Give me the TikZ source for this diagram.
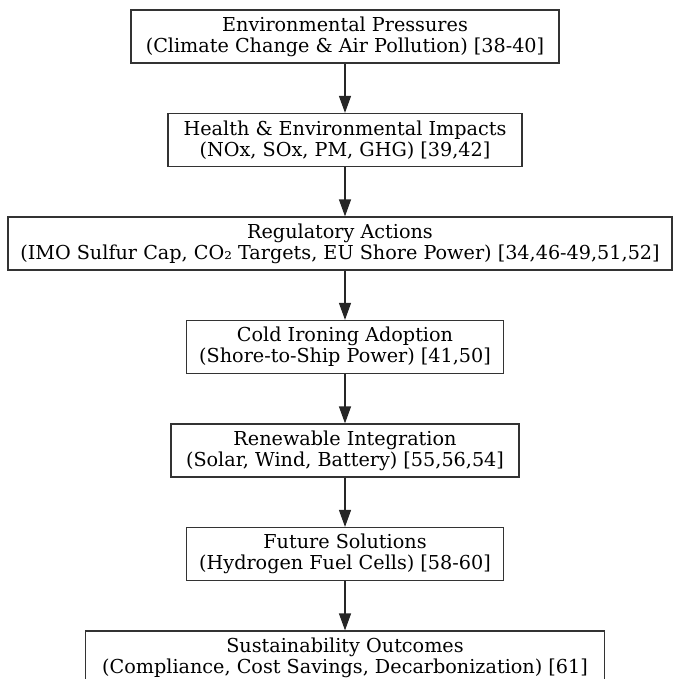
\documentclass[tikz,border=0pt]{standalone}
\usepackage{fontspec}
\setmainfont{DejaVu Serif}
\usetikzlibrary{positioning,arrows.meta}

\begin{document}
\begin{tikzpicture}[x=1pt,y=1pt,
  node distance=49.3pt,
  stage/.style={draw=black!80, line width=1.2pt, minimum height=53pt,
    align=center, inner xsep=10pt, font=\fontsize{19.2}{21}\selectfont},
  flow/.style={-{Triangle[length=17pt,width=12pt]}, line width=1.2pt, black!85}]

% Page frame (the source image is cut off at the bottom)
\useasboundingbox (0,0) rectangle (676,-679);
\clip (0,0) rectangle (676,-679);

% Stages
\node[stage, minimum width=428pt] (pressures) at (345,-36.5)
  {Environmental Pressures\\(Climate Change \& Air Pollution) [38-40]};
\node[stage, minimum width=354pt, below=of pressures] (impacts)
  {Health \& Environmental Impacts\\(NOx, SOx, PM, GHG) [39,42]};
\node[stage, minimum width=664pt, below=of impacts, xshift=-5pt] (regulation)
  {Regulatory Actions\\(IMO Sulfur Cap, CO₂ Targets, EU Shore Power) [34,46-49,51,52]};
\node[stage, minimum width=317pt, below=of regulation, xshift=5pt] (ironing)
  {Cold Ironing Adoption\\(Shore-to-Ship Power) [41,50]};
\node[stage, minimum width=348pt, below=of ironing] (renewables)
  {Renewable Integration\\(Solar, Wind, Battery) [55,56,54]};
\node[stage, minimum width=317pt, below=of renewables] (future)
  {Future Solutions\\(Hydrogen Fuel Cells) [58-60]};
\node[stage, minimum width=519pt, below=of future] (outcomes)
  {Sustainability Outcomes\\(Compliance, Cost Savings, Decarbonization) [61]};

% Arrows
\foreach \a/\b in {pressures/impacts, impacts/regulation, regulation/ironing,
                   ironing/renewables, renewables/future, future/outcomes}
  \draw[flow] (pressures.south |- \a.south) -- (pressures.south |- \b.north);

\end{tikzpicture}
\end{document}
